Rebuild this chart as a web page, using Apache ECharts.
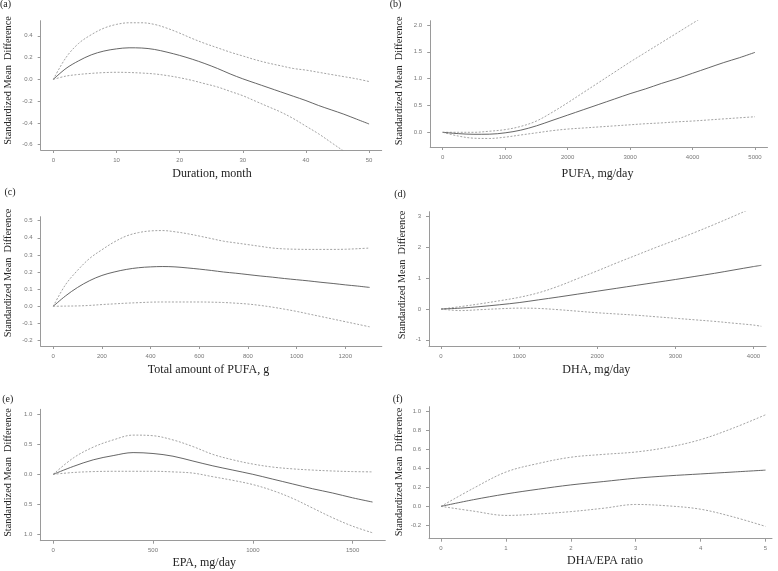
<!DOCTYPE html>
<html>
<head>
<meta charset="utf-8">
<script src="https://cdn.jsdelivr.net/npm/echarts@6/dist/echarts.min.js"></script>
<style>
html,body{margin:0;padding:0;background:#fff;}
#chart{width:778px;height:571px;}
</style>
</head>
<body>
<div id="chart"></div>
<script>
// ---------- Data ----------
// (a) Duration, month
const aX     = [0, 2, 4, 6, 8, 10, 12, 14, 16, 18, 20, 22, 24, 26, 28, 30, 32, 34, 36, 38, 40, 42, 44, 46, 48, 50];
const aMean  = [0, 0.10, 0.17, 0.225, 0.26, 0.28, 0.29, 0.288, 0.275, 0.25, 0.22, 0.185, 0.145, 0.10, 0.05, 0.005, -0.035, -0.075, -0.115, -0.155, -0.195, -0.24, -0.28, -0.32, -0.365, -0.41];
const aUpper = [0, 0.20, 0.33, 0.41, 0.47, 0.505, 0.52, 0.52, 0.505, 0.47, 0.425, 0.375, 0.33, 0.29, 0.25, 0.215, 0.18, 0.15, 0.125, 0.10, 0.085, 0.065, 0.045, 0.025, 0.005, -0.02];
const aLower = [0, 0.03, 0.045, 0.055, 0.062, 0.065, 0.063, 0.058, 0.05, 0.035, 0.015, -0.01, -0.04, -0.07, -0.11, -0.15, -0.20, -0.25, -0.30, -0.36, -0.43, -0.50, -0.58, -0.66, -0.74, -0.82];
const aXTicks = [0, 10, 20, 30, 40, 50];
const aYTicks = [-0.6, -0.4, -0.2, 0.0, 0.2, 0.4];

// (b) PUFA, mg/day
const bX     = [0, 250, 500, 750, 1000, 1250, 1500, 1750, 2000, 2250, 2500, 2750, 3000, 3250, 3500, 3750, 4000, 4250, 4500, 4750, 5000];
const bMean  = [0, -0.025, -0.037, -0.035, -0.01, 0.04, 0.12, 0.22, 0.32, 0.42, 0.52, 0.62, 0.72, 0.81, 0.91, 1.0, 1.1, 1.2, 1.3, 1.39, 1.49];
const bUpper = [0, 0.0, 0.0, 0.02, 0.05, 0.11, 0.21, 0.37, 0.55, 0.74, 0.93, 1.12, 1.31, 1.49, 1.67, 1.85, 2.03, 2.21, 2.39, 2.57, 2.75];
const bLower = [0, -0.07, -0.11, -0.115, -0.09, -0.05, -0.01, 0.03, 0.06, 0.08, 0.1, 0.12, 0.14, 0.16, 0.175, 0.195, 0.21, 0.23, 0.25, 0.27, 0.29];
const bXTicks = [0, 1000, 2000, 3000, 4000, 5000];
const bYTicks = [0.0, 0.5, 1.0, 1.5, 2.0];

// (c) Total amount of PUFA, g
const cX     = [0, 50, 100, 150, 200, 250, 300, 350, 400, 450, 500, 550, 600, 650, 700, 750, 800, 850, 900, 950, 1000, 1050, 1100, 1150, 1200, 1250, 1300];
const cMean  = [0, 0.06, 0.11, 0.15, 0.18, 0.20, 0.215, 0.225, 0.23, 0.232, 0.23, 0.224, 0.217, 0.209, 0.20, 0.193, 0.185, 0.177, 0.17, 0.162, 0.155, 0.148, 0.14, 0.133, 0.125, 0.118, 0.11];
const cUpper = [0, 0.125, 0.21, 0.28, 0.33, 0.375, 0.41, 0.43, 0.44, 0.442, 0.435, 0.424, 0.41, 0.395, 0.38, 0.37, 0.36, 0.35, 0.34, 0.335, 0.333, 0.332, 0.332, 0.332, 0.333, 0.336, 0.34];
const cLower = [0, 0.001, 0.002, 0.005, 0.01, 0.014, 0.018, 0.021, 0.024, 0.025, 0.025, 0.025, 0.025, 0.024, 0.022, 0.018, 0.013, 0.005, -0.005, -0.017, -0.03, -0.045, -0.06, -0.075, -0.09, -0.105, -0.12];
const cXTicks = [0, 200, 400, 600, 800, 1000, 1200];
const cYTicks = [-0.2, -0.1, 0.0, 0.1, 0.2, 0.3, 0.4, 0.5];

// (d) DHA, mg/day
const dX     = [0, 250, 500, 750, 1000, 1250, 1500, 1750, 2000, 2250, 2500, 2750, 3000, 3250, 3500, 3750, 4000, 4100];
const dMean  = [0, 0.03, 0.08, 0.14, 0.21, 0.30, 0.39, 0.485, 0.58, 0.675, 0.77, 0.865, 0.96, 1.06, 1.16, 1.27, 1.38, 1.42];
const dUpper = [0, 0.08, 0.17, 0.27, 0.38, 0.53, 0.74, 0.99, 1.24, 1.50, 1.75, 2.0, 2.24, 2.49, 2.75, 3.02, 3.3, 3.41];
const dLower = [0, -0.05, -0.02, 0.01, 0.03, 0.02, -0.02, -0.07, -0.12, -0.16, -0.2, -0.25, -0.3, -0.35, -0.4, -0.46, -0.52, -0.56];
const dXTicks = [0, 1000, 2000, 3000, 4000];
const dYTicks = [-1, 0, 1, 2, 3];

// (e) EPA, mg/day
const eX     = [0, 100, 200, 300, 400, 500, 600, 700, 800, 900, 1000, 1100, 1200, 1300, 1400, 1500, 1600];
const eMean  = [0, 0.13, 0.24, 0.31, 0.36, 0.345, 0.30, 0.22, 0.14, 0.07, 0.0, -0.08, -0.16, -0.24, -0.31, -0.39, -0.46];
const eUpper = [0, 0.27, 0.45, 0.57, 0.65, 0.64, 0.57, 0.46, 0.33, 0.24, 0.17, 0.12, 0.09, 0.07, 0.055, 0.045, 0.04];
const eLower = [0, 0.03, 0.045, 0.05, 0.05, 0.05, 0.04, 0.02, -0.04, -0.1, -0.17, -0.27, -0.4, -0.56, -0.72, -0.86, -0.97];
const eXTicks = [0, 500, 1000, 1500];
const eYTicks = [-1.0, -0.5, 0.0, 0.5, 1.0];

// (f) DHA/EPA ratio
const fX     = [0, 0.5, 1, 1.5, 2, 2.5, 3, 3.5, 4, 4.5, 5];
const fMean  = [0, 0.07, 0.13, 0.18, 0.225, 0.26, 0.295, 0.32, 0.34, 0.36, 0.38];
const fUpper = [0, 0.19, 0.36, 0.45, 0.515, 0.545, 0.57, 0.62, 0.70, 0.82, 0.96];
const fLower = [0, -0.05, -0.095, -0.08, -0.055, -0.02, 0.02, 0.005, -0.03, -0.11, -0.21];
const fXTicks = [0, 1, 2, 3, 4, 5];
const fYTicks = [-0.2, 0.0, 0.2, 0.4, 0.6, 0.8, 1.0];

const panelLabels = ['(a)', '(b)', '(c)', '(d)', '(e)', '(f)'];
const xTitles = ['Duration, month', 'PUFA, mg/day', 'Total amount of PUFA, g', 'DHA, mg/day', 'EPA, mg/day', 'DHA/EPA ratio'];
const yTitle = 'Standardized Mean  Difference';

// ---------- Layout ----------
const panels = [
  { x: aX, m: aMean, u: aUpper, l: aLower, xt: aXTicks, yt: aYTicks, grid: {left: 40.7, top: 20.7, width: 341, height: 129.3}, xr: [-2, 52], yr: [-0.649, 0.539], yf: v => v.toFixed(1),
    lab: [5.5, 4.5], xtp: [212, 174], ytp: [8.5, 80.5] },
  { x: bX, m: bMean, u: bUpper, l: bLower, xt: bXTicks, yt: bYTicks, grid: {left: 430.2, top: 20.7, width: 337.3, height: 126.3}, xr: [-200, 5200], yr: [-0.274, 2.08], yf: v => v.toFixed(1),
    lab: [395.5, 4.5], xtp: [597.5, 173.5], ytp: [399.2, 80.8] },
  { x: cX, m: cMean, u: cUpper, l: cLower, xt: cXTicks, yt: cYTicks, grid: {left: 40.6, top: 216.7, width: 341.2, height: 129.3}, xr: [-52, 1350], yr: [-0.232, 0.523], yf: v => v.toFixed(1),
    lab: [10, 192], xtp: [208.5, 369.5], ytp: [8.5, 273] },
  { x: dX, m: dMean, u: dUpper, l: dLower, xt: dXTicks, yt: dYTicks, grid: {left: 429, top: 211.7, width: 337, height: 134.3}, xr: [-154, 4160], yr: [-1.2, 3.162], yf: v => String(v),
    lab: [400, 194], xtp: [596.3, 370], ytp: [402.3, 275] },
  { x: eX, m: eMean, u: eUpper, l: eLower, xt: eXTicks, yt: eYTicks, grid: {left: 40.3, top: 409.3, width: 345, height: 131.4}, xr: [-65, 1664], yr: [-1.101, 1.078], yf: v => Math.abs(v).toFixed(1),
    lab: [7.7, 399.5], xtp: [204.2, 562.5], ytp: [8.5, 472.5] },
  { x: fX, m: fMean, u: fUpper, l: fLower, xt: fXTicks, yt: fYTicks, grid: {left: 429, top: 406.7, width: 343, height: 132}, xr: [-0.185, 5.1], yr: [-0.339, 1.045], yf: v => v.toFixed(1),
    lab: [397.7, 399], xtp: [605, 560.7], ytp: [399.3, 472] }
];

const axisColor = '#9a9a9a';
const tickLabelStyle = { fontSize: 6, color: '#777', fontFamily: 'Liberation Sans, Arial, sans-serif' };
const serif = 'Liberation Serif, Times New Roman, serif';

const grids = [], xAxes = [], yAxes = [], series = [], graphics = [];
panels.forEach((p, i) => {
  grids.push(Object.assign({ containLabel: false }, p.grid));
  xAxes.push({
    type: 'value', gridIndex: i, min: p.xr[0], max: p.xr[1],
    axisLine: { show: true, onZero: false, lineStyle: { color: axisColor, width: 1 } },
    axisTick: { show: true, length: 3, inside: false, customValues: p.xt, lineStyle: { color: axisColor } },
    axisLabel: Object.assign({ customValues: p.xt, margin: 7, formatter: v => String(v) }, tickLabelStyle),
    splitLine: { show: false }
  });
  yAxes.push({
    type: 'value', gridIndex: i, min: p.yr[0], max: p.yr[1],
    axisLine: { show: true, onZero: false, lineStyle: { color: axisColor, width: 1 } },
    axisTick: { show: true, length: 3, inside: false, customValues: p.yt, lineStyle: { color: axisColor } },
    axisLabel: Object.assign({ customValues: p.yt, margin: 8, formatter: p.yf }, tickLabelStyle),
    splitLine: { show: false }
  });
  const mk = (ys, isMean) => ({
    type: 'line', xAxisIndex: i, yAxisIndex: i,
    data: p.x.map((xv, k) => [xv, ys[k]]),
    showSymbol: false, symbol: 'none', smooth: 0.35, clip: true, silent: true,
    lineStyle: isMean ? { color: '#555555', width: 0.9 } : { color: '#8c8c8c', width: 0.8, type: [2, 1.6] }
  });
  series.push(mk(p.u, false), mk(p.m, true), mk(p.l, false));

  graphics.push({ type: 'text', x: p.lab[0], y: p.lab[1],
    style: { text: panelLabels[i], font: '10px ' + serif, fill: '#222', textAlign: 'center', textVerticalAlign: 'middle', align: 'center', verticalAlign: 'middle' } });
  graphics.push({ type: 'text', x: p.xtp[0], y: p.xtp[1],
    style: { text: xTitles[i], font: '12px ' + serif, fill: '#222', textAlign: 'center', textVerticalAlign: 'middle', align: 'center', verticalAlign: 'middle' } });
  graphics.push({ type: 'text', x: p.ytp[0], y: p.ytp[1], rotation: Math.PI / 2,
    style: { text: yTitle, font: '10.3px ' + serif, fill: '#222', textAlign: 'center', textVerticalAlign: 'middle', align: 'center', verticalAlign: 'middle' } });
});

const chart = echarts.init(document.getElementById('chart'), null, { renderer: 'canvas' });
chart.setOption({
  animation: false,
  backgroundColor: '#ffffff',
  grid: grids,
  xAxis: xAxes,
  yAxis: yAxes,
  series: series,
  graphic: graphics
});
</script>
</body>
</html>
